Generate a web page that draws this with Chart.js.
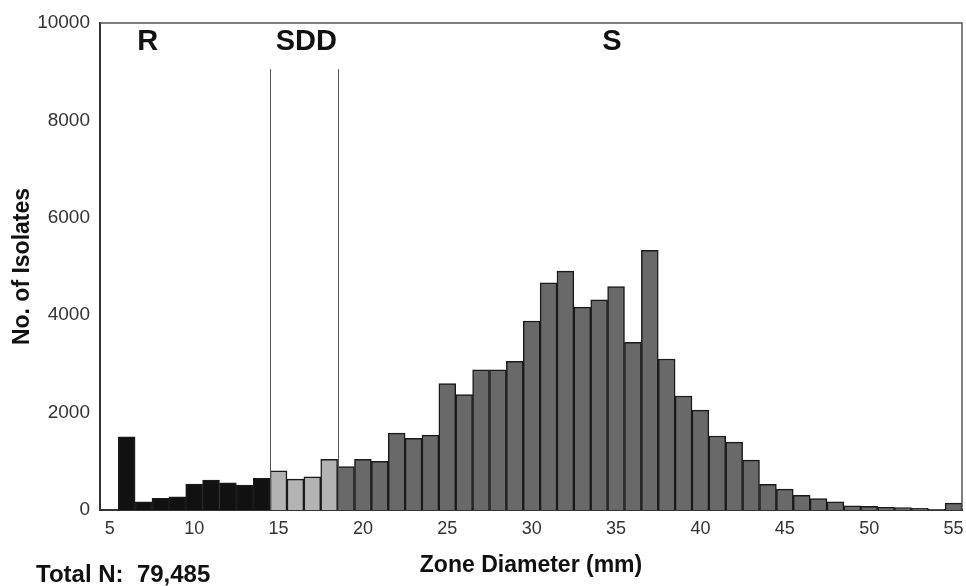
<!DOCTYPE html>
<html>
<head>
<meta charset="utf-8">
<script src="https://cdn.jsdelivr.net/npm/chart.js@4"></script>
<style>
  html, body { margin: 0; padding: 0; background: #fff; }
  #wrap { width: 966px; height: 586px; position: relative; }
</style>
</head>
<body>
<div id="wrap"><canvas id="chart"></canvas></div>
<script>
// zone diameter histogram, R / SDD / S breakpoints

const diameters = [6, 7, 8, 9, 10, 11, 12, 13, 14, 15, 16, 17, 18, 19, 20, 21, 22, 23, 24, 25,
  26, 27, 28, 29, 30, 31, 32, 33, 34, 35, 36, 37, 38, 39, 40, 41, 42, 43, 44, 45,
  46, 47, 48, 49, 50, 51, 52, 53, 54, 55];
const isolates = [1500, 170, 240, 270, 530, 615, 560, 510, 650, 805, 635, 680, 1040, 890, 1040, 1000, 1580, 1470, 1537, 2596,
  2370, 2880, 2880, 3053, 3880, 4665, 4905, 4167, 4317, 4590, 3443, 5330, 3100, 2340, 2050, 1520, 1395, 1025, 526, 430,
  300, 232, 170, 85, 75, 55, 50, 35, 15, 140];
const xTicks = [5, 10, 15, 20, 25, 30, 35, 40, 45, 50, 55];
const breakpoints = [14.5, 18.5];
const zoneNames = ["R", "SDD", "S"];
const zoneColors = ["#111111", "#b3b3b3", "#696969"];
const zoneLabelX = [7.25, 16.65, 34.75];
const totalText = "Total N:  79,485";

const FONT = "'Liberation Sans', Arial, sans-serif";

function zoneOf(d) {
  let z = 0;
  breakpoints.forEach(b => { if (d > b) z++; });
  return z;
}

const overlay = {
  id: "overlay",
  afterDatasetsDraw(chart) {
    const { ctx, chartArea: a, scales: { x, y } } = chart;
    ctx.save();
    // frame top + right
    ctx.strokeStyle = "#555";
    ctx.lineWidth = 1.5;
    ctx.beginPath();
    ctx.moveTo(a.left, a.top); ctx.lineTo(a.right, a.top); ctx.lineTo(a.right, a.bottom);
    ctx.stroke();
    // breakpoint lines
    ctx.lineWidth = 1;
    breakpoints.forEach(b => {
      const px = Math.round(x.getPixelForValue(b)) + 0.5;
      ctx.beginPath();
      ctx.moveTo(px, y.getPixelForValue(9050));
      ctx.lineTo(px, a.bottom);
      ctx.stroke();
    });
    // zone names
    ctx.fillStyle = "#111";
    ctx.font = "bold 29px " + FONT;
    ctx.textAlign = "center";
    ctx.textBaseline = "middle";
    zoneNames.forEach((n, i) => ctx.fillText(n, x.getPixelForValue(zoneLabelX[i]), y.getPixelForValue(9610)));
    // total
    ctx.font = "bold 24px " + FONT;
    ctx.textAlign = "left";
    ctx.textBaseline = "alphabetic";
    ctx.fillText(totalText, 36, 582);
    ctx.restore();
  }
};

new Chart(document.getElementById("chart"), {
  type: "bar",
  data: {
    datasets: [{
      data: diameters.map((d, i) => ({ x: d, y: isolates[i] })),
      backgroundColor: diameters.map(d => zoneColors[zoneOf(d)]),
      borderColor: "#1a1a1a",
      borderWidth: 1.5,
      barPercentage: 1,
      categoryPercentage: 1,
    }]
  },
  options: {
    responsive: true, maintainAspectRatio: false, animation: false,
    layout: { padding: { top: 23, right: 4, left: 0, bottom: 0 } },
    plugins: { legend: { display: false }, tooltip: { enabled: false } },
    scales: {
      x: {
        type: "linear", min: 4.42, max: 55.5, offset: false,
        afterBuildTicks: s => { s.ticks = xTicks.map(v => ({ value: v })); },
        afterFit: s => { s.height = 76; s.paddingLeft = 0; s.paddingRight = 0; },
        grid: { display: false, drawTicks: false },
        border: { color: "#333", width: 2 },
        ticks: { color: "#333", padding: 8, font: { family: FONT, size: 18 } },
        title: { display: true, text: "Zone Diameter (mm)", color: "#111",
                 font: { family: FONT, size: 23, weight: "bold" }, padding: { top: 0, bottom: 7 } },
      },
      y: {
        min: 0, max: 10000,
        afterFit: s => { s.width = 100; },
        grid: { display: false, drawTicks: false },
        border: { color: "#333", width: 2 },
        ticks: { stepSize: 2000, color: "#333", padding: 10, font: { family: FONT, size: 19 },
                 callback: v => String(v) },
        title: { display: true, text: "No. of Isolates", color: "#111",
                 font: { family: FONT, size: 23, weight: "bold" }, padding: { top: 9, bottom: 0 } },
      },
    },
  },
  plugins: [overlay],
});
</script>
</body>
</html>
